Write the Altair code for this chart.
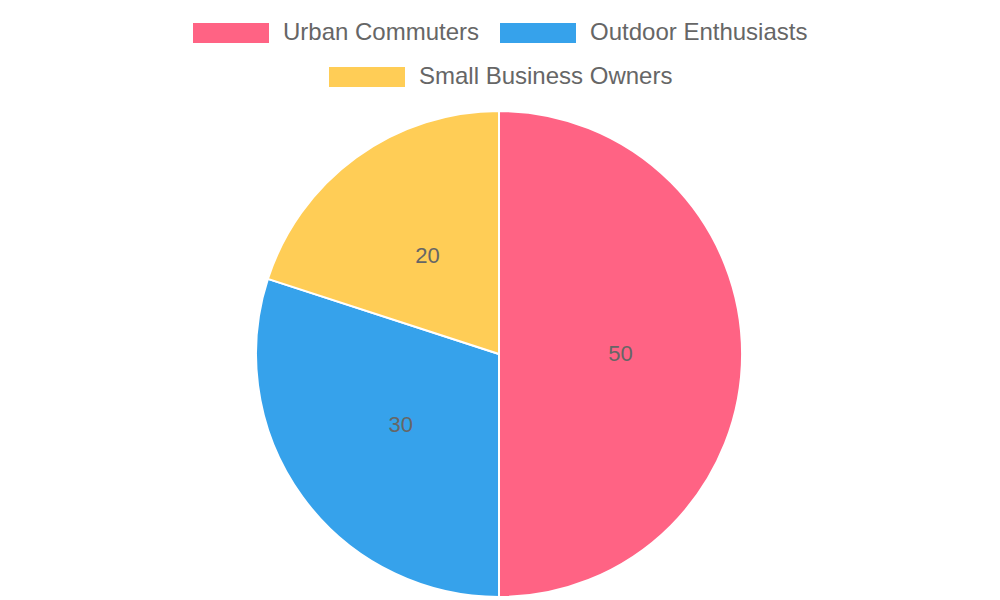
import altair as alt
import pandas as pd

categories = ["Urban Commuters", "Outdoor Enthusiasts", "Small Business Owners"]
values = [50, 30, 20]
colors = ["#FF6384", "#36A2EB", "#FFCD56"]

total = sum(values)
starts = [sum(values[:i]) for i in range(len(values))]
ends = [s + v for s, v in zip(starts, values)]
df = pd.DataFrame({
    "segment": categories,
    "value": values,
    "order": list(range(len(categories))),
    "start": starts,
    "end": ends,
    "mid": [(s + e) / 2 for s, e in zip(starts, ends)],
})

R = 243
theta_scale = alt.Scale(domain=[0, total])


def legend(x, y):
    return alt.Legend(
        title=None,
        orient="none",
        legendX=x,
        legendY=y,
        direction="horizontal",
        symbolType="M-3.8,-1H3.8V1H-3.8Z",
        symbolSize=400,
        symbolStrokeWidth=0,
        symbolOpacity=1,
        labelFont="Liberation Sans",
        labelFontSize=24,
        labelColor="#666666",
        labelOffset=40,
        labelLimit=400,
        columnPadding=20,
        padding=0,
    )


def arc_layer(idx, lx, ly):
    cats = [categories[i] for i in idx]
    cols = [colors[i] for i in idx]
    return (
        alt.Chart(df)
        .transform_filter(alt.FieldOneOfPredicate(field="segment", oneOf=cats))
        .mark_arc(outerRadius=R, stroke="white", strokeWidth=2)
        .encode(
            theta=alt.Theta("start:Q", scale=theta_scale),
            theta2="end:Q",
            color=alt.Color(
                "segment:N",
                scale=alt.Scale(domain=cats, range=cols),
                sort=cats,
                legend=legend(lx, ly),
            ),
        )
    )


row1 = arc_layer([0, 1], 211, -88)
row2 = arc_layer([2], 347, -44)

labels = alt.Chart(df).mark_text(
    radius=R / 2, font="Liberation Sans", fontSize=22, color="#666666"
).encode(
    theta=alt.Theta("mid:Q", scale=theta_scale),
    text="value:Q",
)

chart = (
    alt.layer(row1, row2, labels)
    .resolve_scale(color="independent")
    .properties(width=982, height=490, padding={"left": 0, "top": 13, "right": 0, "bottom": 0})
    .configure_view(stroke=None)
)

chart.save("out.html", embed_options={"renderer": "svg", "actions": False})
